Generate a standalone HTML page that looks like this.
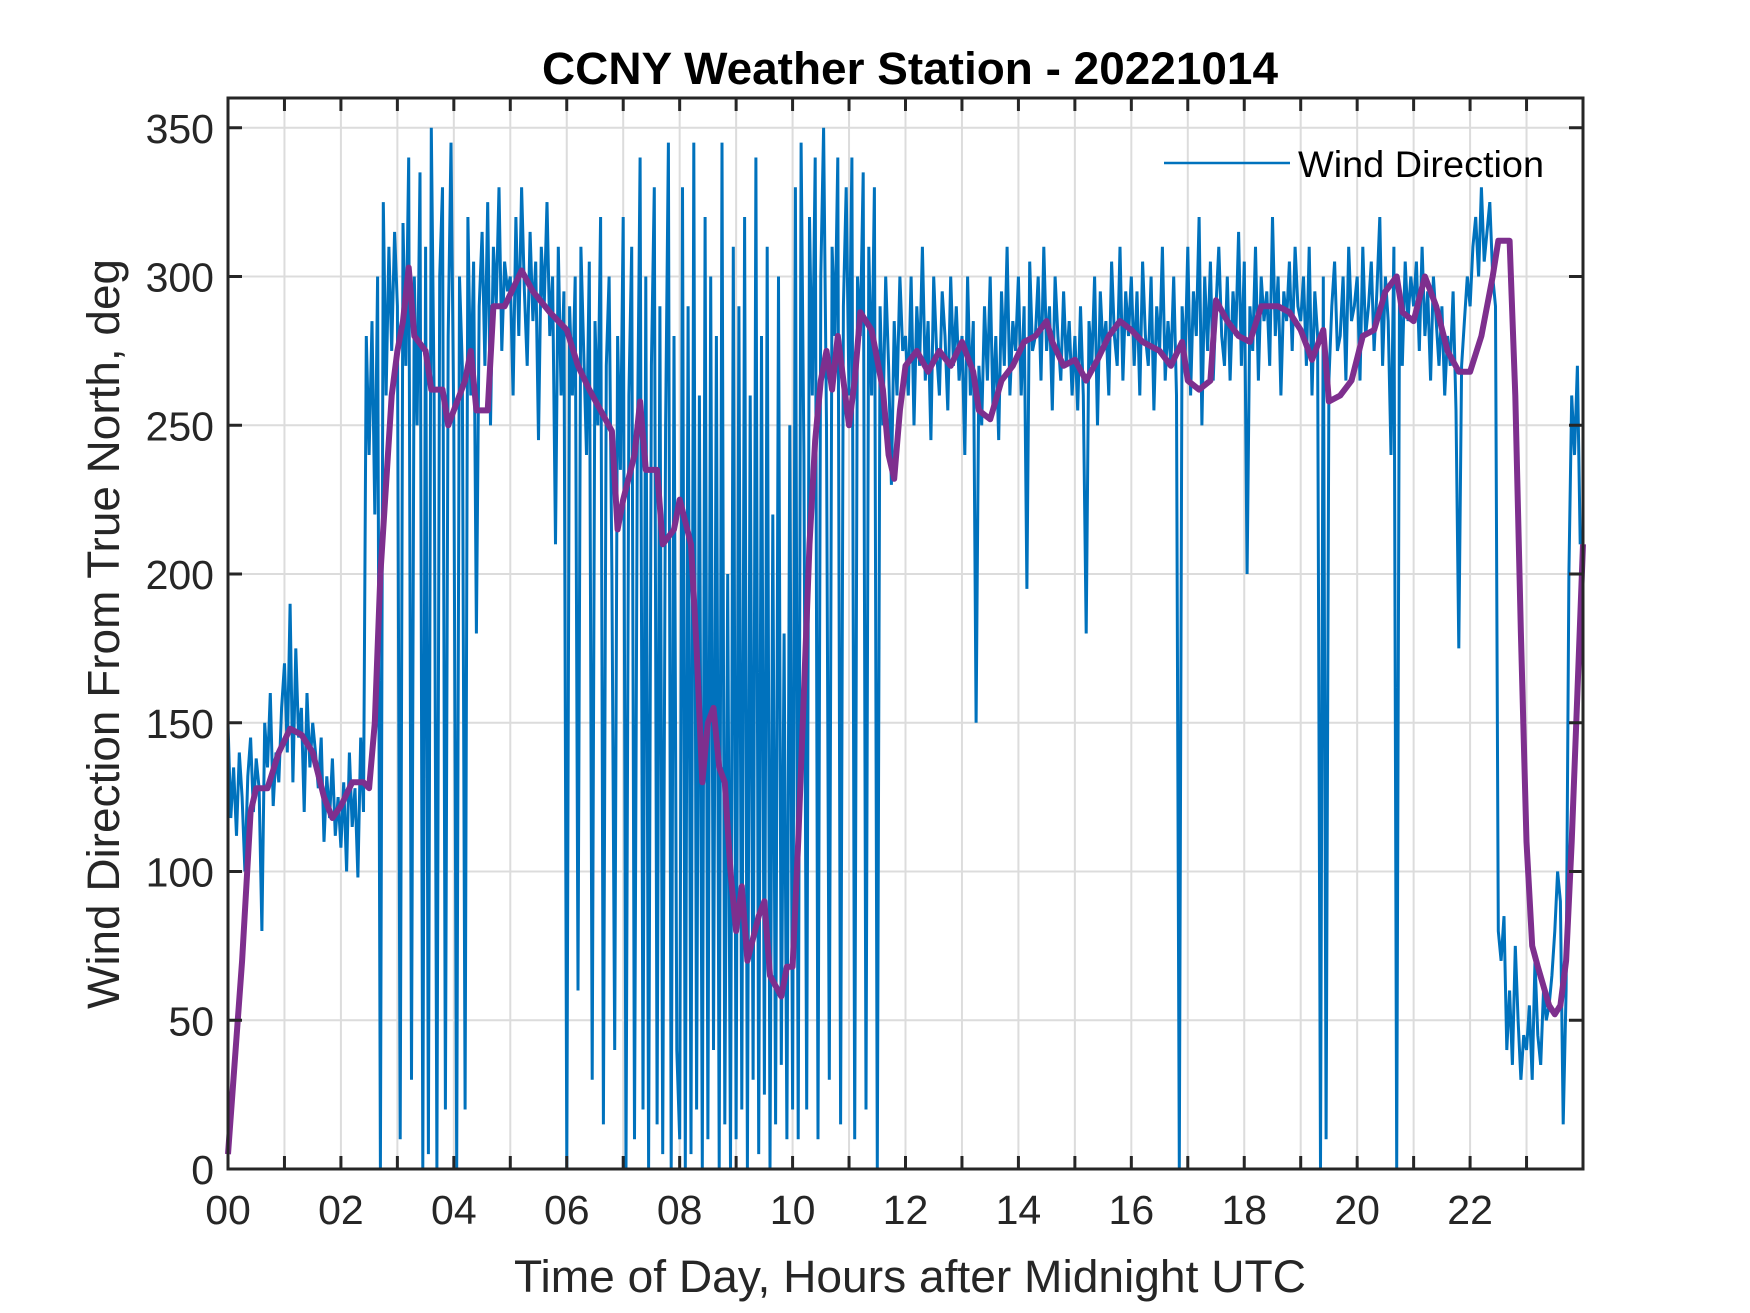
<!DOCTYPE html>
<html><head><meta charset="utf-8"><style>
html,body{margin:0;padding:0;background:#fff;}
svg{display:block;font-family:"Liberation Sans",Arial,sans-serif;}
</style></head><body>
<svg id="chart" width="1750" height="1313" viewBox="0 0 1750 1313" xmlns="http://www.w3.org/2000/svg">
<rect width="1750" height="1313" fill="#fff"/>
<g id="grid"></g>
<g id="series"></g>
<g id="axes"></g>
<text x="910" y="84" text-anchor="middle" font-size="45" font-weight="bold" fill="#000" textLength="736" lengthAdjust="spacingAndGlyphs">CCNY Weather Station - 20221014</text>
<text x="910" y="1292" text-anchor="middle" font-size="45" fill="#262626" textLength="792" lengthAdjust="spacingAndGlyphs">Time of Day, Hours after Midnight UTC</text>
<text transform="translate(119,634) rotate(-90)" text-anchor="middle" font-size="45" fill="#262626" textLength="750" lengthAdjust="spacingAndGlyphs">Wind Direction From True North, deg</text>
<g>
<line x1="1164" y1="163" x2="1290" y2="163" stroke="#0072BD" stroke-width="2.5"/>
<text x="1298" y="177" font-size="37" fill="#000" textLength="246" lengthAdjust="spacingAndGlyphs">Wind Direction</text>
</g>
</svg>
<script>
const xTicks=[0,2,4,6,8,10,12,14,16,18,20,22];
const xTickLabels=["00","02","04","06","08","10","12","14","16","18","20","22"];
const yTicks=[0,50,100,150,200,250,300,350];
const sampleStepHours=0.05;
const windDir=[
150,118,135,112,140,125,100,132,145,120,138,128,80,150,135,160,122,140,130,155,
170,140,190,130,175,145,155,120,160,135,150,140,128,145,110,132,118,138,112,125,
108,130,100,140,115,128,98,145,120,280,240,285,220,300,0,325,260,310,275,315,
290,10,318,270,340,30,300,250,335,0,310,5,350,260,0,300,330,20,280,345,
250,0,300,270,20,320,260,305,180,290,315,270,325,250,310,290,330,275,305,295,
300,260,320,280,330,295,270,315,285,305,245,310,290,325,280,300,210,310,260,295,
0,290,260,300,60,310,275,240,305,30,285,250,320,15,270,300,200,40,280,235,
320,0,260,310,10,240,340,20,300,0,270,330,15,290,5,250,345,0,280,40,
10,330,0,290,5,345,20,260,0,320,10,300,40,280,0,345,15,200,0,310,
10,290,20,320,0,260,30,340,5,280,25,310,0,220,15,300,35,180,10,250,
20,330,10,345,240,20,320,260,340,10,300,350,250,30,310,280,340,15,290,330,
260,340,10,300,280,335,20,310,260,330,0,290,250,300,270,230,285,260,300,275,
280,260,300,250,290,270,310,265,285,245,300,275,260,295,280,255,300,270,290,265,
280,240,300,260,285,150,270,250,290,265,300,255,280,245,295,270,310,260,285,275,
300,260,290,195,305,275,280,300,265,310,275,290,255,300,280,265,295,270,285,260,
280,255,290,260,180,285,270,300,250,295,275,285,260,305,280,270,310,265,295,280,
300,270,295,260,305,280,270,300,255,290,275,310,265,285,270,300,260,0,290,270,
310,260,295,280,320,250,300,275,305,265,290,310,280,270,300,265,295,280,315,270,
305,200,290,275,310,265,300,285,295,270,320,280,300,260,295,285,305,275,310,290,
285,300,270,310,260,295,280,0,300,10,265,290,305,275,280,300,265,310,285,290,
300,265,310,280,290,305,275,295,320,270,300,285,240,310,0,295,270,305,285,300,
290,305,275,310,280,295,265,300,285,270,290,260,280,270,295,255,175,270,285,300,
290,310,320,300,330,305,315,325,300,290,80,70,85,40,60,35,75,50,30,45,
40,55,30,70,45,35,60,50,55,65,80,100,90,15,60,200,260,240,270,210];
const avgHours=[0,0.25,0.4,0.5,0.7,0.9,1.1,1.3,1.5,1.7,1.85,2.0,2.2,2.4,2.5,2.6,2.7,2.9,3.0,3.1,3.2,3.3,3.5,3.6,3.8,3.9,4.0,4.2,4.3,4.4,4.6,4.7,4.9,5.1,5.2,5.4,5.7,6.0,6.2,6.4,6.6,6.8,6.9,7.0,7.2,7.3,7.4,7.6,7.7,7.9,8.0,8.2,8.3,8.4,8.5,8.6,8.7,8.8,8.9,9.0,9.1,9.2,9.4,9.5,9.6,9.8,9.9,10.0,10.1,10.2,10.3,10.4,10.5,10.6,10.7,10.8,10.9,11.0,11.1,11.2,11.4,11.6,11.7,11.8,11.9,12.0,12.2,12.4,12.6,12.8,13.0,13.2,13.3,13.5,13.7,13.9,14.1,14.3,14.5,14.6,14.8,15.0,15.2,15.4,15.6,15.8,16.0,16.2,16.5,16.7,16.9,17.0,17.2,17.4,17.5,17.7,17.9,18.1,18.3,18.6,18.8,19.0,19.2,19.4,19.5,19.7,19.9,20.1,20.3,20.5,20.7,20.8,21.0,21.2,21.4,21.6,21.8,22.0,22.2,22.4,22.5,22.7,22.8,22.9,23.0,23.1,23.2,23.4,23.5,23.6,23.7,23.8,23.9,24.0];
const avgDir=[5,70,120,128,128,140,148,146,140,125,118,122,130,130,128,150,200,260,275,285,303,280,275,262,262,250,255,265,275,255,255,290,290,298,302,295,288,282,270,262,255,248,215,225,240,258,235,235,210,215,225,210,175,130,150,155,135,130,100,80,95,70,85,90,65,58,68,68,110,160,210,245,265,275,262,280,265,250,265,288,282,262,240,232,255,270,275,268,275,270,278,268,255,252,265,270,278,280,285,278,270,272,265,272,280,285,282,278,275,270,278,265,262,265,292,285,280,278,290,290,288,282,272,282,258,260,265,280,282,295,300,288,285,300,290,275,268,268,280,300,312,312,260,180,110,75,68,55,52,55,70,110,160,210];

const L=228,R=1583,T=98,B=1169,XMAX=24,YMAX=360;
const sx=h=>L+h/XMAX*(R-L);
const sy=v=>B-v/YMAX*(B-T);
const NS='http://www.w3.org/2000/svg';
function mk(tag,attrs,parent){const e=document.createElementNS(NS,tag);for(const k in attrs)e.setAttribute(k,attrs[k]);parent.appendChild(e);return e;}
const grid=document.getElementById('grid'),axes=document.getElementById('axes'),series=document.getElementById('series');
mk('rect',{x:L,y:T,width:R-L,height:B-T,fill:'#fff'},grid);
for(let h=1;h<XMAX;h++){
  const g=mk('line',{x1:sx(h),y1:T,x2:sx(h),y2:B,stroke:'#dcdcdc','stroke-width':2},grid);
  
  
  for(const [y1,y2] of [[B,B-13],[T,T+13]]){
    const t=mk('line',{x1:sx(h),y1:y1,x2:sx(h),y2:y2,stroke:'#262626','stroke-width':3},axes);
    
    
  }
}
yTicks.forEach(v=>{
  if(v>0){const g=mk('line',{x1:L,y1:sy(v),x2:R,y2:sy(v),stroke:'#dcdcdc','stroke-width':2},grid);
  
  }
  for(const [x1,x2] of [[L,L+14],[R,R-14]]){
    const t=mk('line',{x1:x1,y1:sy(v),x2:x2,y2:sy(v),stroke:'#262626','stroke-width':3},axes);
    
    
  }
  const lb=mk('text',{x:L-14,y:sy(v)+15,'text-anchor':'end','font-size':41,fill:'#262626'},axes);
  lb.textContent=v;
  
  
});
xTicks.forEach((h,i)=>{
  const lb=mk('text',{x:sx(h),y:B+55,'text-anchor':'middle','font-size':41,fill:'#262626'},axes);
  lb.textContent=xTickLabels[i];
  
  
});
const frame=mk('rect',{x:L,y:T,width:R-L,height:B-T,fill:'none',stroke:'#262626','stroke-width':3},axes);


const bp=windDir.map((v,i)=>sx(i*sampleStepHours).toFixed(1)+','+sy(v).toFixed(1)).join(' ');
const blue=mk('polyline',{points:bp,fill:'none',stroke:'#0072BD','stroke-width':3,'stroke-linejoin':'miter'},series);


const pp=avgHours.map((h,i)=>sx(h).toFixed(1)+','+sy(avgDir[i]).toFixed(1)).join(' ');
const purp=mk('polyline',{points:pp,fill:'none',stroke:'#7E2F8E','stroke-width':6,'stroke-linejoin':'round'},series);


</script>
</body></html>
